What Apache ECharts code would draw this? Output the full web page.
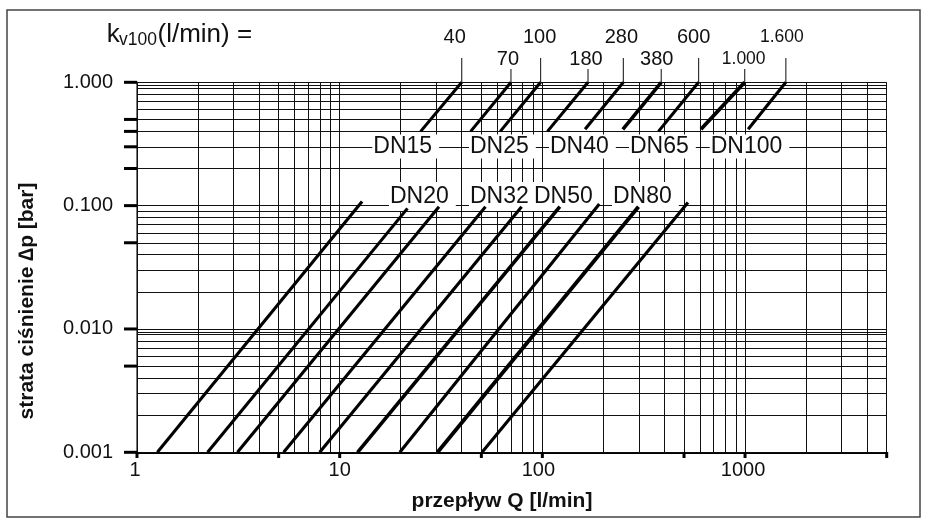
<!DOCTYPE html>
<html><head><meta charset="utf-8">
<script src="https://cdn.jsdelivr.net/npm/echarts@6/dist/echarts.min.js"></script>
<style>html,body{margin:0;padding:0;background:#fff}#c{width:928px;height:525px}</style>
</head><body><div id="c"></div>
<script>
// ---- data ----
const kvLabels = ['40','70','100','180','280','380','600','1.000','1.600'];
// straight segments in log-log space: [Q (l/min), Δp (bar)]
const upperStart = [[25.1,0.40],[44.3,0.40],[62,0.40],[106,0.40],[162.5,0.416],[249.5,0.416],[374,0.40],[606,0.416],[1036,0.416]];
const upperEnd   = [[40,1],[70,1],[98,1],[168,1],[251,1],[386,1],[590,1],[996,1],[1590,1]];
const lowerStart = [[1.26,0.001],[2.23,0.001],[3.13,0.001],[5.29,0.001],[7.97,0.001],[12.25,0.001],[19.8,0.001],[30.4,0.001],[50.4,0.001]];
const lowerEnd   = [[12.9,0.108],[21.6,0.095],[30.9,0.098],[52.4,0.098],[79,0.098],[122,0.098],[191,0.103],[298,0.098],[523,0.106]];
const dnRow1 = ['DN15','DN25','DN40','DN65','DN100'];
const dnRow2 = ['DN20','DN32','DN50','DN80'];
const xGrid = [1,2,3,4,5,6,7,8,9,10,20,30,40,50,60,70,80,90,100,200,300,400,500,600,700,800,900,1000,2000,3000,4000,5000];
const yGrid = [0.001,0.002,0.003,0.004,0.005,0.006,0.007,0.008,0.009,0.0094,0.01,0.02,0.03,0.04,0.05,0.06,0.07,0.08,0.09,0.1,0.2,0.3,0.4,0.5,0.6,0.7,0.8,0.9,0.94,1];
const xMajorTicks = [1,5,10,50,100,500,1000,5000];
const yMajorTicks = [1,0.5,0.4,0.3,0.2,0.1,0.05,0.01,0.005,0.001];
const xTickLabels = ['1','10','100','1000'];
const xTickValues = [1,10,100,1000];
const xTitle = 'przepływ Q [l/min]';
const yTitle = 'strata ciśnienie ∆p [bar]';

// ---- layout (pixels) ----
const kvRow = [1,2,1,2,1,2,1,2,1];
const kvDx  = [-7,-3,-1,-2,-2,-4.5,-5,-1,-4];
const dnRow1Left = [373.3,470,550,630,710.7];
const dnRow2Left = [390,470,534,613];
const thick = [3.1,3.1,3.1,3.1,3.1,3.6,3.1,3.8,3.1];
const xLabelDx = [-2,0,-4,-2];

const FF = '"Liberation Sans", Arial, Helvetica, sans-serif';
const chart = echarts.init(document.getElementById('c'), null, {renderer:'canvas'});

const gridData = [];
xGrid.forEach(v => gridData.push({coords:[[v,0.001],[v,1]]}));
yGrid.forEach(v => gridData.push({coords:[[1,v],[5000,v]]}));
const segData = [];
kvLabels.forEach((k,i) => {
  segData.push({coords:[lowerStart[i], lowerEnd[i]], lineStyle:{width:thick[i]}});
  segData.push({coords:[upperStart[i], upperEnd[i]], lineStyle:{width:thick[i]}});
});

chart.setOption({
  animation:false,
  grid:{left:137, right:41.3, top:82.3, bottom:72.7},
  xAxis:{type:'log', logBase:10, min:1, max:5000,
    axisLine:{show:true, onZero:false, lineStyle:{color:'#000', width:2}},
    axisTick:{show:false}, splitLine:{show:false}, minorTick:{show:false},
    axisLabel:{show:false}},
  yAxis:{type:'log', logBase:10, min:0.001, max:1,
    axisLine:{show:true, onZero:false, lineStyle:{color:'#777', width:2}},
    axisTick:{show:false}, splitLine:{show:false},
    axisLabel:{fontFamily:FF, fontSize:20, color:'#111', margin:24, verticalAlign:'middle', padding:[0,0,15,0],
      formatter:v => v.toFixed(3)}},
  series:[
    {type:'lines', coordinateSystem:'cartesian2d', z:1, silent:true,
     lineStyle:{color:'#111', width:1, opacity:1}, data:gridData},
    {type:'lines', coordinateSystem:'cartesian2d', z:10, silent:true,
     lineStyle:{color:'#000', width:3.1, opacity:1, cap:'butt'}, data:segData}
  ]
});

const px = (p) => chart.convertToPixel({gridIndex:0}, p);
const g = [];
// frame
g.push({type:'rect', z:30, shape:{x:7, y:10, width:913, height:507}, style:{fill:null, stroke:'#444', lineWidth:1.5}});
// thick ticks
yMajorTicks.forEach(v => { const y = px([1,v])[1];
  g.push({type:'line', z:30, shape:{x1:124, y1:y, x2:137, y2:y}, style:{stroke:'#000', lineWidth:3}}); });
xMajorTicks.forEach(v => { const x = px([v,0.001])[0];
  g.push({type:'line', z:30, shape:{x1:x, y1:452, x2:x, y2:458}, style:{stroke:'#000', lineWidth:3}}); });
// x tick labels
xTickValues.forEach((v,i) => { const x = px([v,0.001])[0];
  g.push({type:'text', z:30, x:x+xLabelDx[i], y:470,
    style:{text:xTickLabels[i], align:'center', verticalAlign:'middle', fill:'#111', font:'20px '+FF}}); });
// kv labels and leaders
kvLabels.forEach((t,i) => {
  const p = px(upperEnd[i]);
  const row1 = kvRow[i] === 1;
  g.push({type:'line', z:30, shape:{x1:p[0], y1:row1?58:69, x2:p[0], y2:p[1]}, style:{stroke:'#333', lineWidth:1.2}});
  g.push({type:'text', z:30, x:p[0]+kvDx[i], y:row1?37:59,
    style:{text:t, align:'center', verticalAlign:'middle', fill:'#111',
      font:(t.length>3?'17.5px ':'20px ')+FF}});
});
// DN labels
dnRow1.forEach((t,i) => g.push({type:'text', z:5, x:dnRow1Left[i]-1, y:146.5,
  style:{text:t, align:'left', verticalAlign:'middle', fill:'#111', font:'23px '+FF,
    backgroundColor:'#fff', padding:[0,7,1,1]}}));
dnRow2.forEach((t,i) => g.push({type:'text', z:5, x:dnRow2Left[i]-1, y:196.5,
  style:{text:t, align:'left', verticalAlign:'middle', fill:'#111', font:'23px '+FF,
    backgroundColor:'#fff', padding:[5,i===2?4:7,1,1]}}));
// header k_v100(l/min) =
g.push({type:'text', z:30, x:106.7, y:34.5, style:{text:'k', align:'left', verticalAlign:'middle', fill:'#111', font:'26px '+FF}});
g.push({type:'text', z:30, x:119, y:40.5, style:{text:'v100', align:'left', verticalAlign:'middle', fill:'#111', font:'17.5px '+FF}});
g.push({type:'text', z:30, x:157.5, y:34.5, style:{text:'(l/min) =', align:'left', verticalAlign:'middle', fill:'#111', font:'26px '+FF}});
// axis titles
g.push({type:'text', z:30, x:502, y:501, style:{text:xTitle, align:'center', verticalAlign:'middle', fill:'#111', font:'bold 21px '+FF}});
g.push({type:'text', z:30, x:27.5, y:301, rotation:Math.PI/2, style:{text:yTitle, align:'center', verticalAlign:'middle', fill:'#111', font:'bold 21px '+FF}});

chart.setOption({graphic:{elements:g}});
</script></body></html>
